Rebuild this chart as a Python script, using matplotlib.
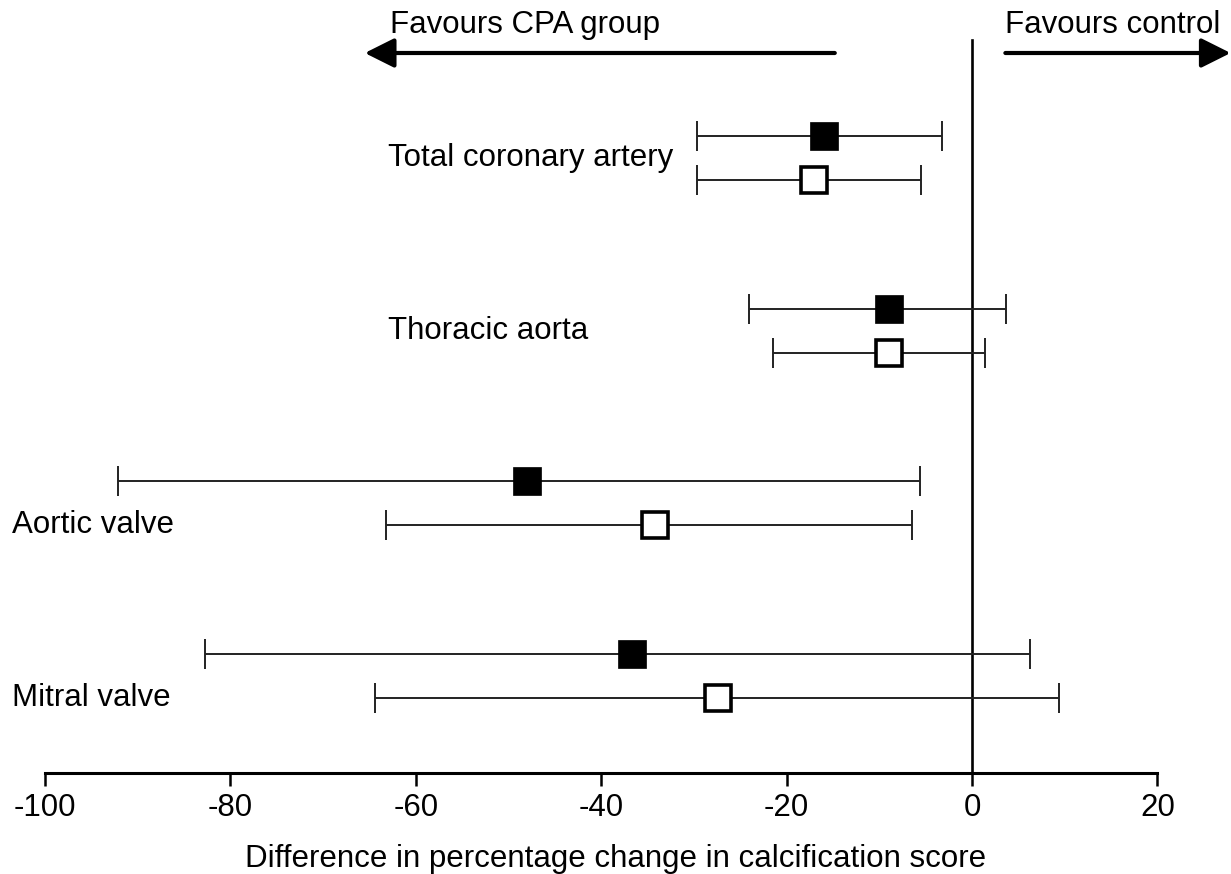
import matplotlib.pyplot as plt

plt.rcParams['font.family'] = ['Liberation Sans', 'DejaVu Sans']

# outcomes, one pair of rows each (filled = first analysis, open = second)
outcomes = ['Total coronary artery', 'Thoracic aorta', 'Aortic valve', 'Mitral valve']
filled_est = [-16.0, -9.0, -48.0, -36.7]
filled_lo = [-29.7, -24.1, -92.1, -82.7]
filled_hi = [-3.2, 3.7, -5.6, 6.3]
open_est = [-17.0, -9.0, -34.2, -27.4]
open_lo = [-29.7, -21.5, -63.2, -64.4]
open_hi = [-5.5, 1.4, -6.5, 9.4]
xticks = [-100, -80, -60, -40, -20, 0, 20]

# vertical layout: group centres, rows half a unit above/below
group_y = [13.98, 10.05, 6.14, 2.2]
label_x = [-63.0, -63.0, -103.6, -103.6]
label_dy = [0.0, 0.0, -0.5, -0.5]

FS = 22.5

fig = plt.figure(figsize=(12.31, 8.74), dpi=100)
ax = fig.add_axes([0, 101 / 874, 1, 773 / 874])
ax.set_xlim(-104.85, 27.94)
ax.set_ylim(0, 773 / 44)

bar_kw = dict(fmt='none', ecolor='#222222', elinewidth=1.4, capsize=10.5,
              capthick=1.4, zorder=2)
for i, name in enumerate(outcomes):
    y1 = group_y[i] + 0.5
    y2 = group_y[i] - 0.5
    ax.errorbar(filled_est[i], y1,
                xerr=[[filled_est[i] - filled_lo[i]], [filled_hi[i] - filled_est[i]]],
                **bar_kw)
    ax.errorbar(open_est[i], y2,
                xerr=[[open_est[i] - open_lo[i]], [open_hi[i] - open_est[i]]],
                **bar_kw)
    ax.plot(filled_est[i], y1, 's', ms=20.5, mfc='black', mec='black', mew=0.5, zorder=3)
    ax.plot(open_est[i], y2, 's', ms=18.5, mfc='white', mec='black', mew=2.6, zorder=3)
    ax.text(label_x[i], group_y[i] + label_dy[i], name, fontsize=FS,
            ha='left', va='center')

# line of no difference
ax.plot([0, 0], [0, (773 - 40) / 44], color='black', lw=1.9, zorder=1)

# direction arrows
arrow_y = (773 - 53) / 44
head = dict(arrowstyle='-|>,head_length=0.9,head_width=0.45', color='black',
            lw=3, mutation_scale=20, shrinkA=0, shrinkB=0)
ax.annotate('', xy=(-65.5, arrow_y), xytext=(-14.8, arrow_y), arrowprops=head)
ax.annotate('', xy=(27.9, arrow_y), xytext=(3.6, arrow_y), arrowprops=head)
ax.text(-62.8, (773 - 25) / 44, 'Favours CPA group', fontsize=FS, ha='left', va='center')
ax.text(3.6, (773 - 25) / 44, 'Favours control', fontsize=FS, ha='left', va='center')

for s in ['top', 'right', 'left']:
    ax.spines[s].set_visible(False)
ax.spines['bottom'].set_bounds(-100, 20)
ax.spines['bottom'].set_linewidth(2.2)
ax.set_yticks([])
ax.set_xticks(xticks)
ax.set_xticklabels([str(t) for t in xticks])
ax.tick_params(axis='x', direction='out', length=9.5, width=1.8, labelsize=FS, pad=5)
ax.set_xlabel('Difference in percentage change in calcification score', fontsize=FS, labelpad=15)

fig.savefig('out.png', dpi=100)
